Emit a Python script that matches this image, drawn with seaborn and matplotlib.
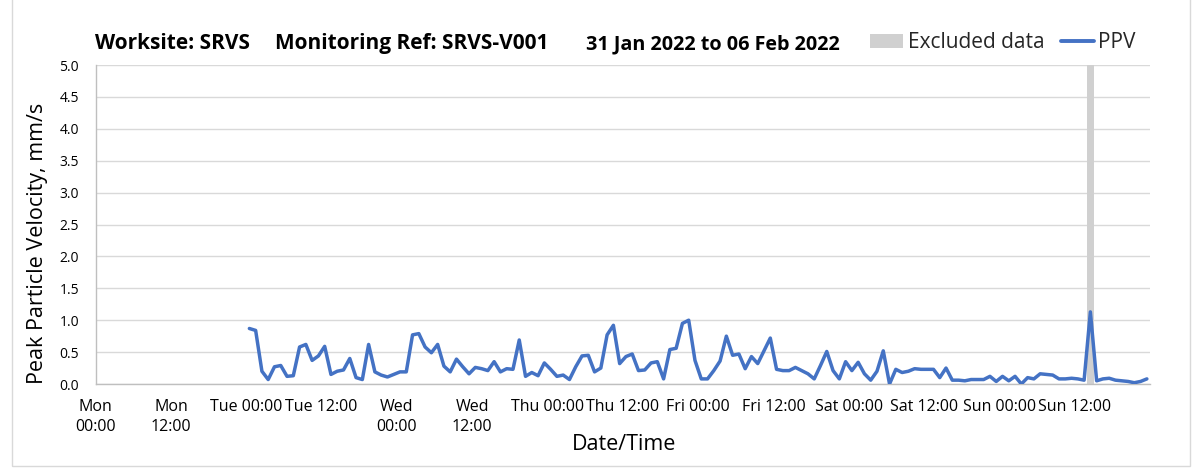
import numpy as np
import pandas as pd
import matplotlib
matplotlib.use("Agg")
import matplotlib.pyplot as plt
import matplotlib.dates as mdates
from matplotlib.patches import Patch, Rectangle
from matplotlib.lines import Line2D
import seaborn as sns

# Hourly peak particle velocity readings (mm/s), Tue 01 Feb 00:30 onwards
start_time = "2022-02-01 00:30"
ppv_values = [
    0.87, 0.84, 0.20, 0.07, 0.27, 0.29, 0.12, 0.13, 0.58, 0.62, 0.37, 0.44,
    0.59, 0.15, 0.20, 0.22, 0.40, 0.10, 0.07, 0.62, 0.19, 0.14, 0.11, 0.15,
    0.19, 0.19, 0.77, 0.79, 0.58, 0.49, 0.62, 0.28, 0.19, 0.39, 0.27, 0.16,
    0.26, 0.24, 0.21, 0.35, 0.19, 0.24, 0.23, 0.69, 0.12, 0.18, 0.13, 0.33,
    0.23, 0.12, 0.14, 0.07, 0.27, 0.44, 0.45, 0.19, 0.25, 0.77, 0.92, 0.32,
    0.43, 0.47, 0.21, 0.22, 0.33, 0.35, 0.08, 0.54, 0.56, 0.95, 1.00, 0.37,
    0.08, 0.08, 0.21, 0.36, 0.75, 0.45, 0.47, 0.24, 0.43, 0.32, 0.52, 0.72,
    0.23, 0.21, 0.21, 0.26, 0.21, 0.16, 0.08, 0.29, 0.51, 0.21, 0.08, 0.35,
    0.21, 0.34, 0.16, 0.06, 0.20, 0.52, 0.00, 0.23, 0.18, 0.20, 0.24, 0.23,
    0.23, 0.23, 0.10, 0.25, 0.06, 0.06, 0.05, 0.07, 0.07, 0.07, 0.12, 0.04,
    0.12, 0.05, 0.12, 0.00, 0.10, 0.08, 0.16, 0.15, 0.14, 0.08, 0.08, 0.09,
    0.08, 0.06, 1.13, 0.05, 0.08, 0.09, 0.06, 0.05, 0.04, 0.02, 0.04, 0.08,
]

# Periods flagged as excluded data
excluded_start = ["2022-02-06 14:00"]
excluded_end = ["2022-02-06 15:00"]

# Axis range and tick labels
x_start = "2022-01-31 00:00"
x_end = "2022-02-07 00:00"
tick_labels = [
    "Mon\n00:00", "Mon\n12:00", "Tue 00:00", "Tue 12:00", "Wed\n00:00",
    "Wed\n12:00", "Thu 00:00", "Thu 12:00", "Fri 00:00", "Fri 12:00",
    "Sat 00:00", "Sat 12:00", "Sun 00:00", "Sun 12:00", "",
]
y_ticks = [0.0, 0.5, 1.0, 1.5, 2.0, 2.5, 3.0, 3.5, 4.0, 4.5, 5.0]

title_parts = ["Worksite: SRVS", "Monitoring Ref: SRVS-V001",
               "31 Jan 2022 to 06 Feb 2022"]

df = pd.DataFrame({
    "time": pd.date_range(start_time, periods=len(ppv_values), freq="h"),
    "ppv": ppv_values,
})

sns.set_theme(style="white")
plt.rcParams["font.family"] = ["Open Sans", "DejaVu Sans"]

W, H = 1203, 471
fig = plt.figure(figsize=(W / 100, H / 100), dpi=100)
ax = fig.add_axes([95.6 / W, 1 - 384 / H, (1150 - 95.6) / W, (384 - 65) / H])

line_color = "#4472C4"
band_color = "#D0D0D0"
grid_color = "#D9D9D9"
axis_color = "#BFBFBF"

for s, e in zip(excluded_start, excluded_end):
    ax.axvspan(pd.Timestamp(s), pd.Timestamp(e), color=band_color, lw=0, zorder=1)

sns.lineplot(data=df, x="time", y="ppv", ax=ax, color=line_color,
             linewidth=2.5, zorder=3)

ax.set_xlim(pd.Timestamp(x_start), pd.Timestamp(x_end))
ax.set_ylim(0, 5.0)

major = pd.date_range(x_start, x_end, freq="12h")
minor = pd.date_range(x_start, x_end, freq="24h")
ax.set_xticks(mdates.date2num(major))
ax.set_xticklabels(tick_labels)
ax.set_xticks(mdates.date2num(minor), minor=True)
ax.set_yticks(y_ticks)
ax.set_yticklabels([f"{v:.1f}" for v in y_ticks])

ax.grid(False)
ax.grid(True, which="minor", axis="x", color=grid_color, lw=1.0, zorder=0)
ax.grid(True, which="major", axis="y", color=grid_color, lw=1.0, zorder=0)
ax.set_axisbelow(True)

for side in ("top", "right"):
    ax.spines[side].set_visible(False)
for side in ("left", "bottom"):
    ax.spines[side].set_color(axis_color)
    ax.spines[side].set_linewidth(1.0)

ax.tick_params(axis="x", which="major", direction="out", length=6, width=1,
               color=axis_color, labelsize=11.5, pad=5, labelcolor="black")
ax.tick_params(axis="x", which="minor", length=0)
ax.tick_params(axis="y", direction="out", length=6, width=1,
               color=axis_color, labelsize=10, pad=6, labelcolor="black")
for lbl in ax.get_xticklabels():
    lbl.set_verticalalignment("top")
    lbl.set_linespacing(1.35)

ax.set_xlabel("Date/Time", fontsize=15.5, color="black")
ax.xaxis.set_label_coords((624 - 95.6) / (1150 - 95.6), -(444 - 384) / (384 - 65))
ax.xaxis.label.set_verticalalignment("center")
ax.set_ylabel("Peak Particle Velocity, mm/s", fontsize=15.5, color="black")
ax.yaxis.set_label_coords(-(95.6 - 38) / (1150 - 95.6), (384 - 243) / (384 - 65))
ax.yaxis.label.set_verticalalignment("center")

# Title pieces
title_x = [95, 275, 586]
title_size = [15, 15, 14.2]
for tx, ts, txt in zip(title_x, title_size, title_parts):
    fig.text(tx / W, 1 - 49 / H, txt, fontsize=ts, fontweight="bold",
             ha="left", va="baseline", color="black")

handles = [Patch(facecolor=band_color, edgecolor="none"),
           Line2D([0], [0], color=line_color, lw=2.8)]
fig.legend(handles, ["Excluded data", "PPV"], loc="center left",
           bbox_to_anchor=(870 / W, 1 - 43 / H), ncol=2, frameon=False,
           fontsize=15, handlelength=1.6, handleheight=0.67,
           handletextpad=0.2, columnspacing=0.8, borderaxespad=0,
           borderpad=0)

# Chart area border
fig.add_artist(Rectangle((12 / W, 1 - 466 / H), (1190 - 12) / W, 466 / H + 0.01,
                         transform=fig.transFigure, fill=False,
                         edgecolor="#D9D9D9", lw=1.0))

fig.savefig("out.png", dpi=100)
